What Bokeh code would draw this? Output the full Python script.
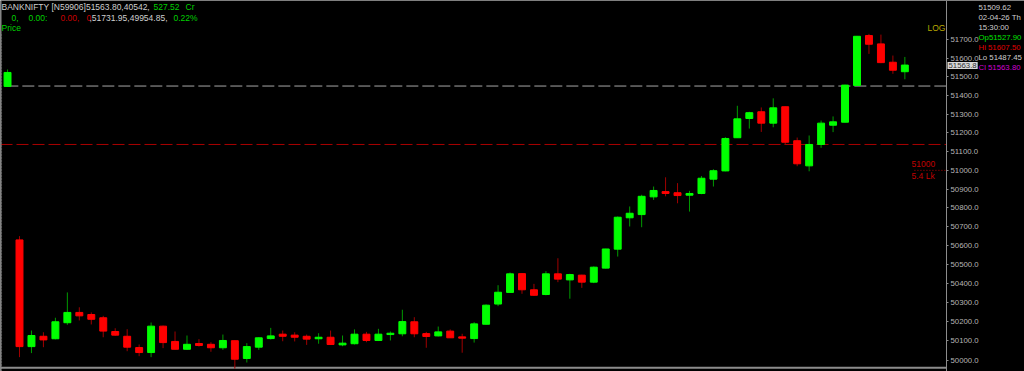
from bokeh.plotting import figure
from bokeh.models import ColumnDataSource, FixedTicker, PrintfTickFormatter, Span, Label, LogAxis
from bokeh.embed import file_html
from bokeh.resources import INLINE

# ---- data (BANKNIFTY intraday candles; first one is the last bar of the previous day) ----
opens = [51449, 50631, 50070, 50124, 50111, 50195, 50249, 50238, 50221, 50149,
         50124, 50065, 50039, 50177, 50097, 50056, 50086, 50082, 50064, 50101,
         50008, 50067, 50112, 50135, 50130, 50124, 50111, 50119, 50079, 50085,
         50135, 50102, 50133, 50137, 50200, 50138, 50126, 50151, 50121, 50112,
         50187, 50293, 50354, 50453, 50368, 50343, 50452, 50420, 50445, 50408,
         50482, 50582, 50748, 50765, 50859, 50887, 50881, 50868, 50877, 50953,
         50997, 51174, 51277, 51313, 51252, 51340, 51158, 51024, 51138, 51241,
         51257, 51454, 51723, 51678, 51579, 51527.90]
highs = [51540, 50651, 50154, 50145, 50221, 50354, 50276, 50249, 50231, 50166,
         50161, 50081, 50196, 50180, 50149, 50128, 50109, 50093, 50133, 50102,
         50088, 50119, 50168, 50154, 50145, 50133, 50140, 50154, 50128, 50160,
         50147, 50163, 50149, 50263, 50224, 50147, 50175, 50160, 50137, 50198,
         50291, 50392, 50459, 50455, 50399, 50466, 50534, 50452, 50447, 50491,
         50584, 50755, 50808, 50870, 50914, 50963, 50932, 50891, 50970, 51006,
         51177, 51345, 51313, 51336, 51385, 51341, 51175, 51186, 51266, 51288,
         51458, 51721, 51731.95, 51728, 51615, 51607.50]
lows = [51447, 50015, 50036, 50067, 50108, 50184, 50207, 50186, 50119, 50127,
        50046, 50020, 50015, 50062, 50055, 50053, 50070, 50043, 50053, 49954.85,
        49987, 50053, 50107, 50098, 50097, 50079, 50085, 50079, 50072, 50081,
        50093, 50099, 50102, 50124, 50119, 50064, 50123, 50115, 50038, 50091,
        50186, 50282, 50352, 50347, 50336, 50339, 50408, 50321, 50378, 50403,
        50480, 50543, 50702, 50698, 50843, 50862, 50825, 50781, 50873, 50914,
        50995, 51173, 51223, 51205, 51230, 51137, 51022, 50995, 51120, 51204,
        51256, 51453, 51624, 51574, 51517, 51487.45]
closes = [51524, 50070, 50128, 50105, 50200, 50249, 50231, 50213, 50151, 50130,
          50067, 50039, 50177, 50091, 50056, 50082, 50076, 50064, 50102, 50004,
          50070, 50116, 50126, 50124, 50119, 50109, 50119, 50081, 50088, 50135,
          50102, 50135, 50140, 50201, 50137, 50123, 50147, 50116, 50114, 50189,
          50287, 50355, 50452, 50368, 50339, 50452, 50424, 50448, 50408, 50487,
          50583, 50751, 50772, 50862, 50893, 50877, 50866, 50877, 50958, 50998,
          51170, 51275, 51308, 51252, 51334, 51150, 51035, 51138, 51252, 51259,
          51456, 51719, 51676, 51577, 51536, 51563.80]

tick_values = [50000, 50100, 50200, 50300, 50400, 50500, 50600, 50700, 50800,
               50900, 51000, 51100, 51200, 51300, 51400, 51500, 51600, 51700]
prev_close = 51451
level_line = 51138
vol_level = 51000

header_line1 = [("BANKNIFTY [N59906]51563.80,40542,", "#cfcfcf"), ("527.52", "#00d000"), ("Cr", "#00d000")]
header_line2 = [("0,", "#00d000"), ("0.00:", "#00d000"), ("0.00,", "#c80000"), ("0", "#c80000"),
                (",51731.95,49954.85,", "#cfcfcf"), ("0.22%", "#00d000")]
info_lines = [("51509.62", "#cfcfcf"), ("02-04-26 Th", "#cfcfcf"), ("15:30:00", "#cfcfcf"),
              ("Op51527.90", "#00e000"), ("Hi 51607.50", "#e00000"), ("Lo 51487.45", "#cfcfcf"),
              ("Cl 51563.80", "#d000d0")]

# ---- build ----
n = len(opens)
xs = list(range(n))
up = [c >= o for o, c in zip(opens, closes)]
src = ColumnDataSource(dict(
    x=xs,
    top=[max(o, c) for o, c in zip(opens, closes)],
    bottom=[min(o, c) for o, c in zip(opens, closes)],
    high=highs, low=lows,
    body=["#00ff00" if u else "#ff0000" for u in up],
    wick=["#009a00" if u else "#a00000" for u in up],
))

W, H = 1024, 371
X0, X1 = -0.588, 85.0      # visible bar range (full canvas width)
XAX = 78.48                # where the price scale sits
Y0, Y1 = 49940.0, 51912.6

p = figure(width=W, height=H, y_axis_type="log", x_range=(X0, X1), y_range=(Y0, Y1),
           output_backend="svg", toolbar_location=None, title=None,
           x_axis_location=None, y_axis_location=None,
           background_fill_color="#000000", border_fill_color="#000000",
           min_border_left=0, min_border_top=0, min_border_bottom=0, min_border_right=0,
           outline_line_color=None)
p.grid.visible = False

ax = LogAxis(fixed_location=XAX)
ax.ticker = FixedTicker(ticks=tick_values)
ax.formatter = PrintfTickFormatter(format="%.1f")
ax.axis_line_color = "#8c8c8c"
ax.major_tick_line_color = "#8c8c8c"
ax.major_tick_out = 2
ax.major_tick_in = 0
ax.minor_tick_line_color = None
ax.major_label_text_color = "#b4b4b4"
ax.major_label_text_font = "Liberation Sans"
ax.major_label_text_font_size = "7.8px"
ax.major_label_standoff = 2
p.add_layout(ax, "right")

# reference lines
p.segment(x0=[X0], x1=[XAX], y0=[level_line], y1=[level_line], line_color="#a80000", line_width=1, line_dash="12 4")
p.segment(x0=[-0.1], x1=[XAX], y0=[prev_close], y1=[prev_close], line_color="#a8a8a8", line_width=1, line_dash="12 4")
p.segment(x0=[-0.5], x1=[-0.5], y0=[Y0], y1=[51740.0], line_color="#6e6e6e", line_width=1, line_dash="1 2")
p.segment(x0=[75.8], x1=[XAX], y0=[vol_level], y1=[vol_level], line_color="#b00000", line_width=1, line_dash="1 2")
p.add_layout(Span(location=X0, dimension="height", line_color="#8c8c8c", line_width=2))
p.segment(x0=[X0], x1=[XAX], y0=[49959.5], y1=[49959.5], line_color="#8c8c8c", line_width=2)

# candles
p.segment(x0="x", x1="x", y0="high", y1="low", line_color="wick", line_width=1, source=src)
p.vbar(x="x", width=0.58, top="top", bottom="bottom", fill_color="body", line_color="body", line_width=1, source=src)

FONT = "Liberation Sans"

def add_text(txt, x, yc, color, size="8.5px", bg=None):
    lab = Label(x=x, y=H - yc, x_units="screen", y_units="screen", text=txt, text_color=color,
                text_font=FONT, text_font_size=size, text_baseline="middle", text_align="left")
    if bg is not None:
        lab.background_fill_color = bg
        lab.padding = 1
    p.add_layout(lab)

for (t, c), x in zip(header_line1, [1, 153, 185]):
    add_text(t, x, 6, c)
for (t, c), x in zip(header_line2, [11, 28, 60, 86, 89, 173]):
    add_text(t, x, 17, c)
add_text("Price", 1, 27, "#00d000")
add_text("LOG", 927, 27, "#b8a800")
add_text("51000", 911, 163, "#c00000")
add_text("5.4 Lk", 911, 175, "#c00000")
for i, (t, c) in enumerate(info_lines):
    add_text(t, 978, 7 + i * 10, c, size="7.8px")
add_text("51563.8", 947, 65, "#303030", size="7.8px", bg="#d8d8d8")

open("out.html", "w").write(file_html(p, INLINE))
